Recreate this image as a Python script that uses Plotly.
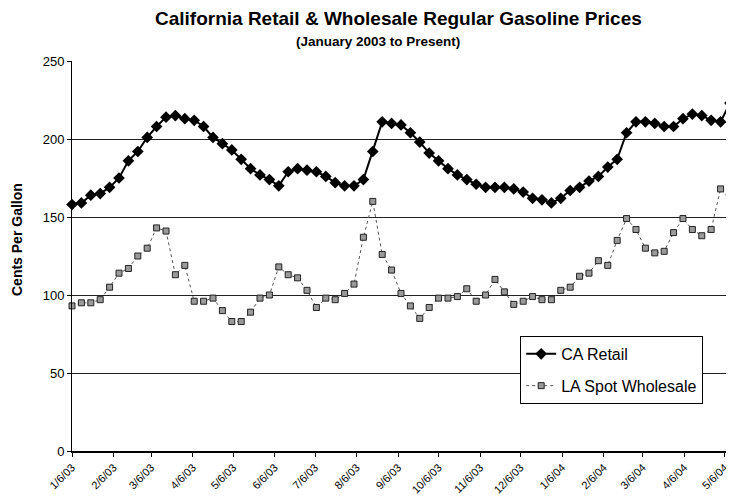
import pandas as pd
import plotly.graph_objects as go

# Weekly observation dates (Mondays), 1/6/03 through 5/10/04
dates = pd.date_range("2003-01-06", periods=71, freq="7D")

ca_retail = [158, 159, 164, 165, 169, 175, 186, 192, 201, 208, 214, 215, 213, 212, 208,
             201, 197, 193, 187, 181, 177, 174, 170, 179, 181, 180, 179, 176, 172, 170,
             170, 174, 192, 211, 210, 209, 204, 198, 191, 186, 181, 177, 174, 171, 169,
             169, 169, 168, 166, 162, 161, 159, 162, 167, 169, 173, 176, 182, 187, 204,
             211, 211, 210, 208, 208, 213, 216, 215, 212, 211, 223]

la_wholesale = [93, 95, 95, 97, 105, 114, 117, 125, 130, 143, 141, 113, 119, 96, 96,
                98, 90, 83, 83, 89, 98, 100, 118, 113, 111, 103, 92, 98, 97, 101,
                107, 137, 160, 126, 116, 101, 93, 85, 92, 98, 98, 99, 104, 96, 100,
                110, 102, 94, 96, 99, 97, 97, 103, 105, 112, 114, 122, 119, 135, 149,
                142, 130, 127, 128, 140, 149, 142, 138, 142, 168, 161]

tick_dates = ["2003-01-06", "2003-02-06", "2003-03-06", "2003-04-06", "2003-05-06",
              "2003-06-06", "2003-07-06", "2003-08-06", "2003-09-06", "2003-10-06",
              "2003-11-06", "2003-12-06", "2004-01-06", "2004-02-06", "2004-03-06",
              "2004-04-06", "2004-05-06"]
tick_labels = ["1/6/03", "2/6/03", "3/6/03", "4/6/03", "5/6/03", "6/6/03", "7/6/03",
               "8/6/03", "9/6/03", "10/6/03", "11/6/03", "12/6/03", "1/6/04", "2/6/04",
               "3/6/04", "4/6/04", "5/6/04"]

FONT = "Liberation Sans, Arial, sans-serif"

# the page body adds an 8px margin, so the figure is drawn 8px smaller
W, H = 726, 492

fig = go.Figure()
fig.add_trace(go.Scatter(
    x=dates, y=ca_retail, name="CA Retail", mode="lines+markers",
    line=dict(color="black", width=2),
    marker=dict(symbol="diamond", size=9, color="black"),
    cliponaxis=False, legendgroup="a"))
fig.add_trace(go.Scatter(
    x=dates, y=la_wholesale, name="LA Spot Wholesale", mode="lines+markers",
    line=dict(color="#555555", width=1, dash="dot"),
    marker=dict(symbol="square", size=6, color="#9a9a9a",
                line=dict(color="#222222", width=1)),
    cliponaxis=False, legendgroup="b"))

fig.update_layout(
    width=W, height=H,
    margin=dict(l=64, r=0, t=53, b=49, autoexpand=False),
    paper_bgcolor="white", plot_bgcolor="white",
    font=dict(family=FONT, color="black"),
    showlegend=True,
    legend=dict(x=0.677, y=0.295, xanchor="left", yanchor="top",
                bordercolor="black", borderwidth=1, bgcolor="white",
                font=dict(size=16, family=FONT), tracegroupgap=8,
                itemwidth=30),
    xaxis=dict(type="date", range=["2003-01-06", "2004-05-13"],
               tickvals=tick_dates, ticktext=tick_labels, tickangle=-45,
               tickfont=dict(size=11), showgrid=False, automargin=False,
               showline=True, linecolor="black", linewidth=1.5,
               ticks="outside", ticklen=4, tickcolor="black", zeroline=False),
    yaxis=dict(range=[0, 250], tickvals=[0, 50, 100, 150, 200, 250],
               tickfont=dict(size=13), showgrid=True, gridcolor="#222222",
               gridwidth=1, showline=True, linecolor="black", linewidth=1,
               automargin=False,
               ticks="outside", ticklen=4, tickcolor="black", zeroline=False),
    annotations=[
        dict(text="<b>California Retail &amp; Wholesale Regular Gasoline Prices</b>",
             xref="paper", yref="paper", x=(398 - 72) / 662, y=(451 - 19) / 390,
             xanchor="center", yanchor="middle", showarrow=False,
             font=dict(size=19, family=FONT)),
        dict(text="<b>(January 2003 to Present)</b>",
             xref="paper", yref="paper", x=(378 - 72) / 662, y=(451 - 42) / 390,
             xanchor="center", yanchor="middle", showarrow=False,
             font=dict(size=13.5, family=FONT)),
        dict(text="<b>Cents Per Gallon</b>", textangle=-90,
             xref="paper", yref="paper", x=(17 - 72) / 662, y=(451 - 240) / 390,
             xanchor="center", yanchor="middle", showarrow=False,
             font=dict(size=14, family=FONT)),
    ],
)

fig.write_html("out.html")
